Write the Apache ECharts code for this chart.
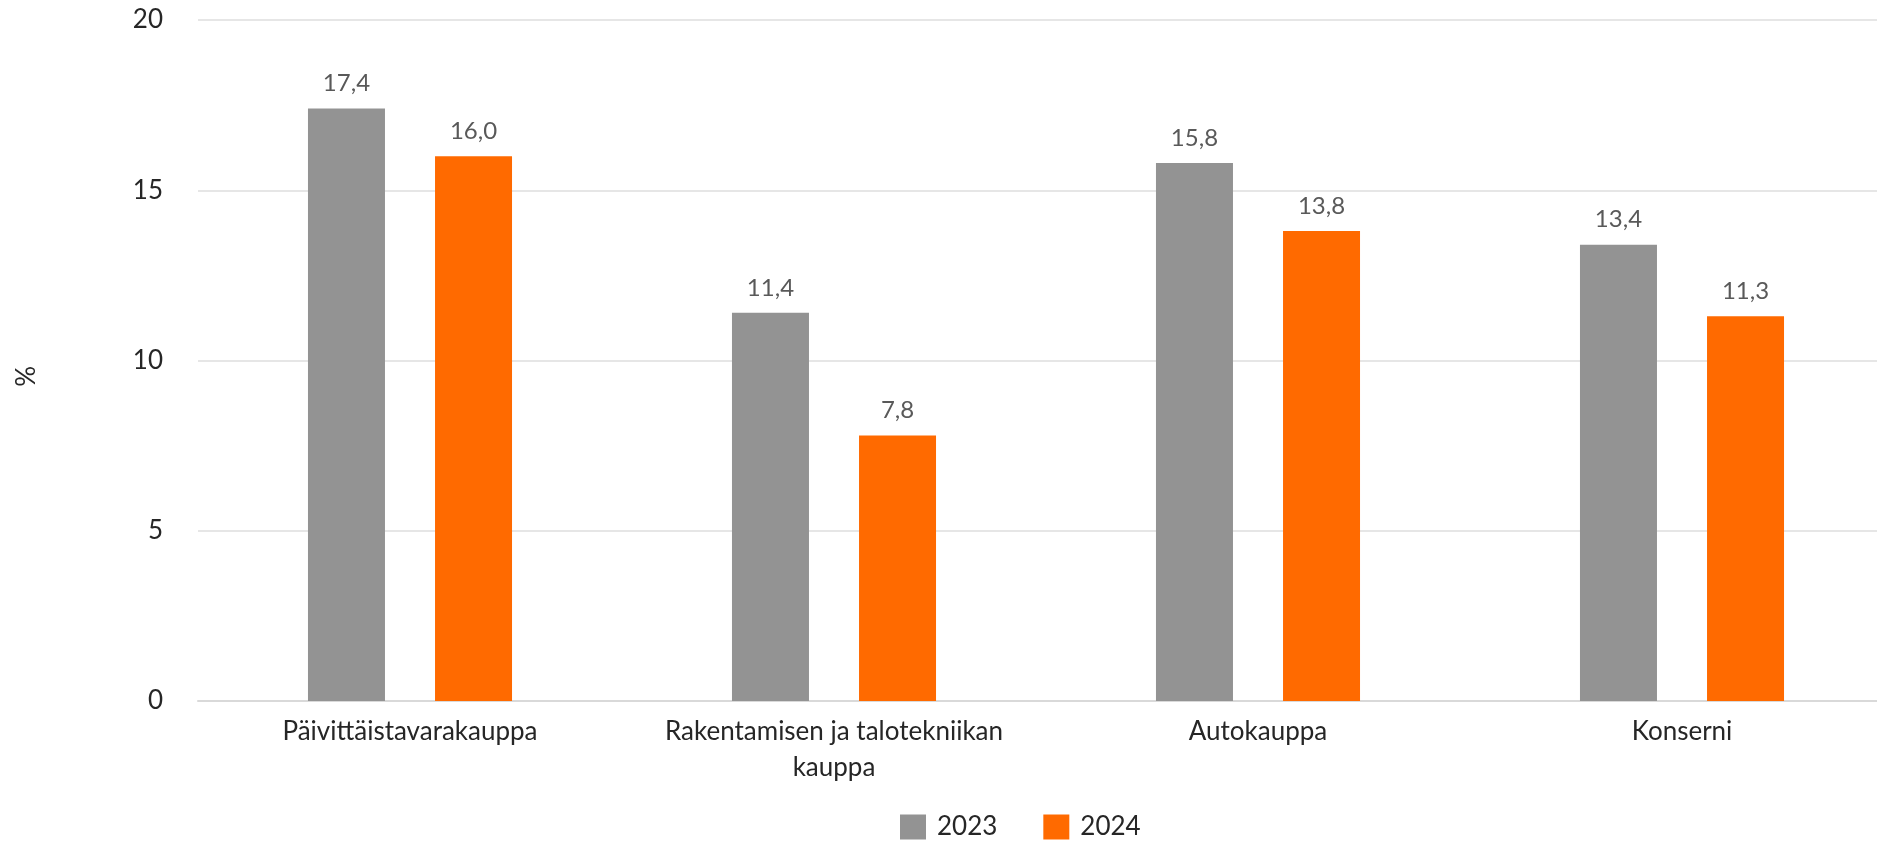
<!DOCTYPE html>
<html>
<head>
<meta charset="utf-8">
<script src="https://cdn.jsdelivr.net/npm/echarts@6/dist/echarts.min.js"></script>
<style>
html,body{margin:0;padding:0;background:#fff;overflow:hidden;}
#chart{width:1877px;height:848px;}
</style>
</head>
<body>
<div id="chart"></div>
<script>
const categories = ['Päivittäistavarakauppa', 'Rakentamisen ja talotekniikan\nkauppa', 'Autokauppa', 'Konserni'];
const values2023 = [17.4, 11.4, 15.8, 13.4];
const values2024 = [16.0, 7.8, 13.8, 11.3];
const seriesNames = ['2023', '2024'];
const yTicks = {min: 0, max: 20, interval: 5};

const FONT = 'Lato';
const chart = echarts.init(document.getElementById('chart'), null, {renderer: 'canvas'});
const fmt = p => p.value.toFixed(1).replace('.', ',');
const labelCfg = {
  show: true, position: 'top', distance: 13,
  formatter: fmt, color: '#595959', fontSize: 24, fontFamily: FONT
};
chart.setOption({
  animation: false,
  textStyle: {fontFamily: FONT},
  grid: {left: 198, width: 1696, top: 20, bottom: 147, containLabel: false, outerBoundsMode: 'none'},
  legend: {
    data: seriesNames, left: 895, bottom: 3, itemWidth: 26, itemHeight: 25,
    itemGap: 46, icon: 'rect',
    textStyle: {fontSize: 26, color: '#262626', fontFamily: FONT, padding: [0, 0, 0, 6]}
  },
  xAxis: {
    type: 'category', data: categories,
    axisLine: {show: true, lineStyle: {color: '#d9d9d9', width: 2}},
    axisTick: {show: false},
    axisLabel: {fontSize: 26, color: '#262626', fontFamily: FONT, margin: 13, lineHeight: 36, interval: 0}
  },
  yAxis: {
    type: 'value', min: yTicks.min, max: yTicks.max, interval: yTicks.interval,
    axisLine: {show: false}, axisTick: {show: false},
    splitLine: {lineStyle: {color: '#e6e6e6', width: 2}},
    axisLabel: {fontSize: 26, color: '#262626', fontFamily: FONT, margin: 35}
  },
  graphic: [{
    type: 'text', left: 14, top: 366, rotation: Math.PI / 2,
    style: {text: '%', fontSize: 26, fill: '#262626', fontFamily: FONT}
  }],
  series: [
    {name: seriesNames[0], type: 'bar', data: values2023, barWidth: 77, barGap: '65%',
     itemStyle: {color: '#939393'}, label: labelCfg},
    {name: seriesNames[1], type: 'bar', data: values2024, barWidth: 77,
     itemStyle: {color: '#ff6a00'}, label: labelCfg}
  ]
});
</script>
</body>
</html>
